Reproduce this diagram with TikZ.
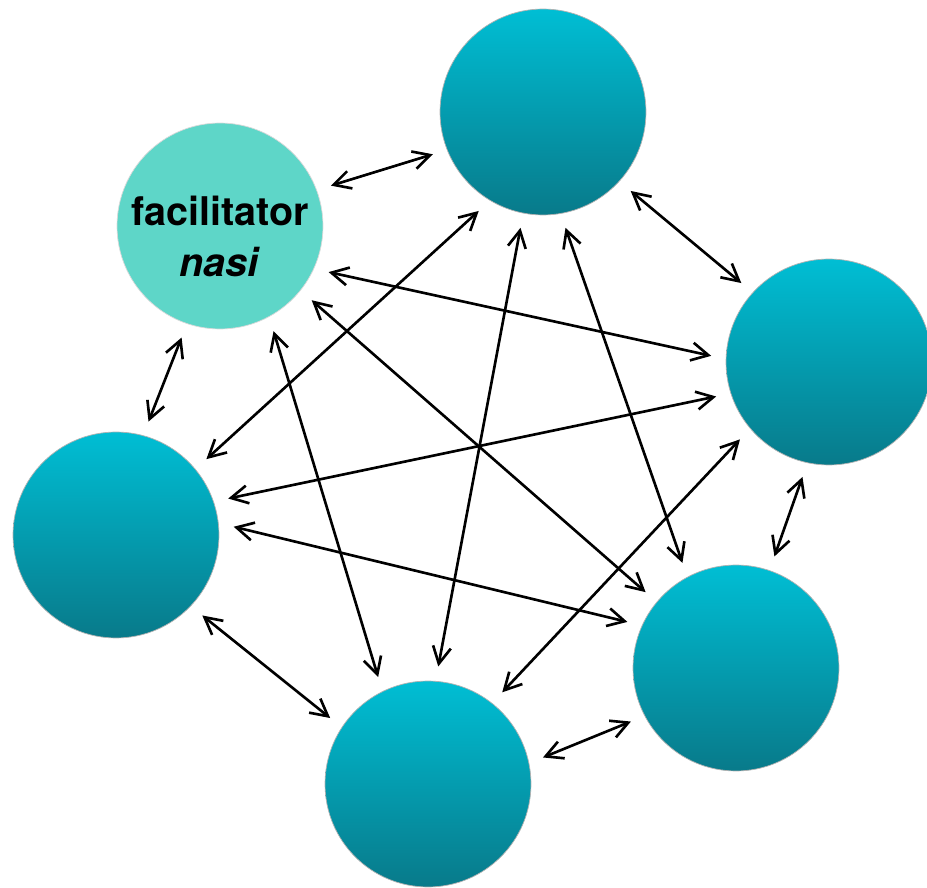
\documentclass[tikz,border=0pt]{standalone}
\usepackage{fontspec}
\setsansfont{TeX Gyre Heros}
\usepackage{xcolor}
\usepackage{tikz}
\usetikzlibrary{arrows.meta}
\definecolor{tealtop}{RGB}{0,190,212}
\definecolor{tealbot}{RGB}{8,122,138}
\definecolor{mint}{RGB}{94,214,200}

\begin{document}
\begin{tikzpicture}[x=0.02cm,y=-0.02cm,
member/.style={circle,draw=gray!60,line width=0.4pt,top color=tealtop,bottom color=tealbot,
inner sep=0pt,minimum size=4.12cm,outer sep=0.3cm},
facil/.style={circle,draw=gray!30,line width=0.4pt,fill=mint,
inner sep=0pt,minimum size=4.12cm,outer sep=0.3cm},
link/.style={<->,line width=1.5pt,>={Straight Barb[length=3.4mm,width=3.6mm]}}]
\useasboundingbox (0,0) rectangle (927,888);
\node[facil] (facilitator) at (220,226) {};
\node[align=center,font=\sffamily\bfseries\fontsize{22.5}{29}\selectfont]
  (facname) at (220,236) {facilitator\\\textit{nasi}};
\node[member] (north) at (543,112) {};
\node[member] (east) at (829,362) {};
\node[member] (southeast) at (736,668) {};
\node[member] (south) at (428,784) {};
\node[member] (west) at (116,535) {};
% arrows out of the facilitator
\draw [link] (facilitator.20) to (north.-159);
\draw [link] (facilitator.-109) to (west.74);
\draw [link] (facilitator.-23) to (east.177);
\draw [link] (facilitator.-39) to (southeast.140);
\draw [link] (facilitator.-63) to (south.115);
% the others
\draw [link] (north.-123) to (west.40);
\draw [link] (north.-101) to (south.85);
\draw [link] (north.-42) to (east.138);
\draw [link] (north.-79) to (southeast.117);
\draw [link] (east.-163) to (west.18);
\draw [link] (east.-139) to (south.51);
\draw [link] (east.-103) to (southeast.71);
\draw [link] (west.4) to (southeast.157);
\draw [link] (west.-43) to (south.146);
\draw [link] (south.13) to (southeast.-153);
\end{tikzpicture}
\end{document}
